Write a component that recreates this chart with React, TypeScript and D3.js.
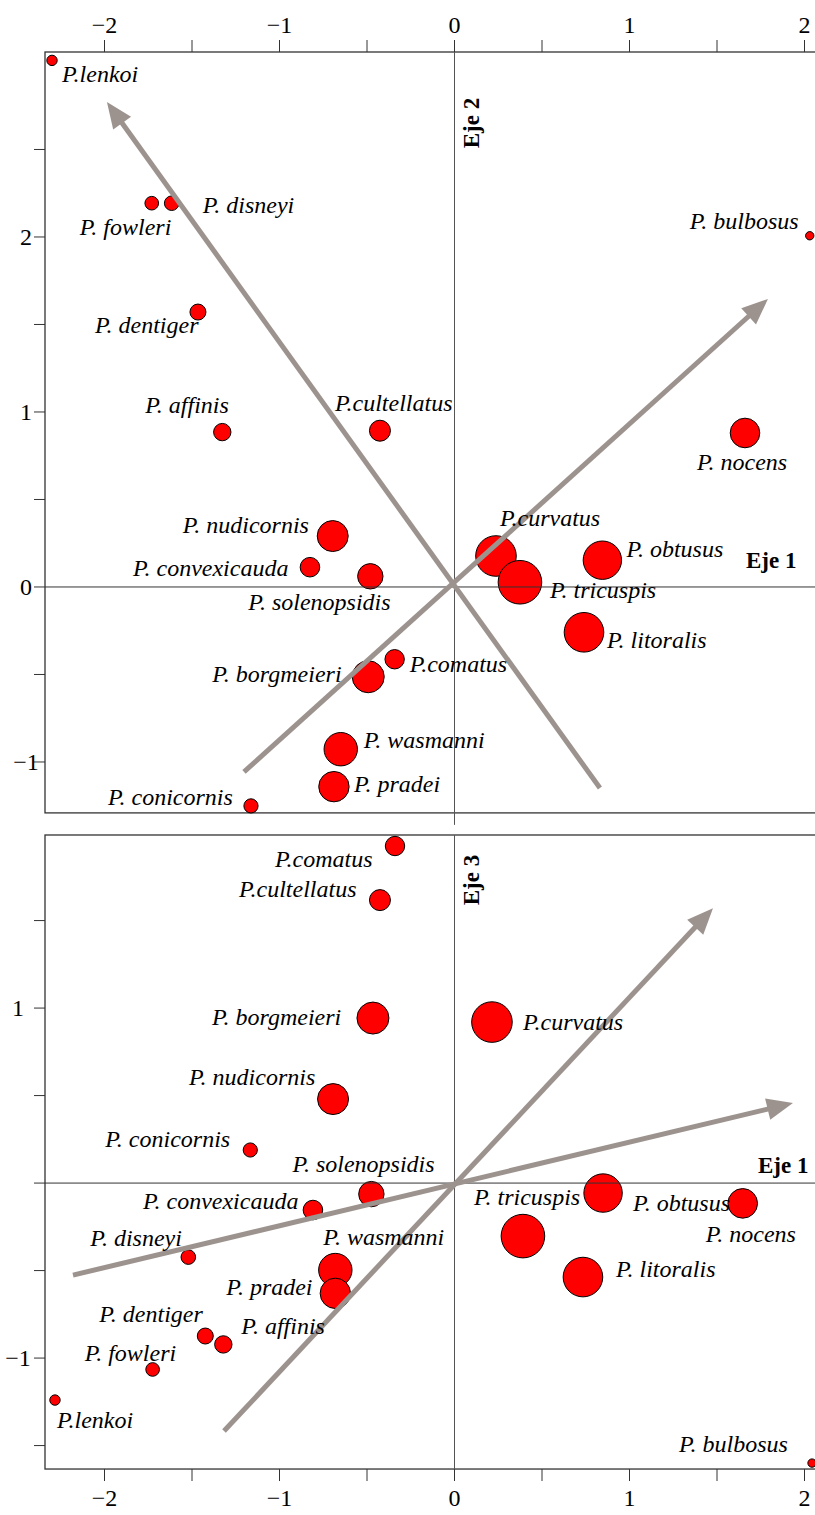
import React from "react";
import * as d3 from "d3";

// Species scores on the ordination axes
const species = [
  "P.lenkoi", "P. fowleri", "P. disneyi", "P. dentiger", "P. affinis",
  "P.cultellatus", "P. bulbosus", "P. nocens", "P. nudicornis", "P. convexicauda",
  "P. solenopsidis", "P.curvatus", "P. tricuspis", "P. obtusus", "P. litoralis",
  "P. borgmeieri", "P.comatus", "P. wasmanni", "P. pradei", "P. conicornis",
];

const eje1Top = [-2.3, -1.73, -1.616, -1.466, -1.327, -0.426, 2.03, 1.66, -0.696, -0.826,
  -0.481, 0.237, 0.374, 0.845, 0.74, -0.493, -0.342, -0.65, -0.689, -1.163];
const eje2 = [3.009, 2.193, 2.193, 1.571, 0.885, 0.893, 2.007, 0.88, 0.291, 0.113,
  0.061, 0.177, 0.027, 0.153, -0.259, -0.513, -0.413, -0.927, -1.141, -1.251];

const eje1Bottom = [-2.283, -1.725, -1.521, -1.424, -1.321, -0.426, 2.043, 1.647, -0.694, -0.809,
  -0.475, 0.214, 0.391, 0.849, 0.734, -0.466, -0.34, -0.681, -0.681, -1.167];
const eje3 = [-1.24, -1.065, -0.423, -0.874, -0.922, 1.617, -1.6, -0.116, 0.48, -0.154,
  -0.063, 0.92, -0.303, -0.057, -0.537, 0.943, 1.926, -0.497, -0.63, 0.189];

// Relative abundance (symbol area)
const abundance = [5.6, 9.6, 11, 13.2, 15.6, 22.8, 3.6, 45.3, 49.6, 19.8,
  33.3, 85.1, 98.2, 76.2, 81, 52.9, 19.4, 57.6, 47.7, 10.4];

// Environmental vectors [x0, y0, x1, y1]
const vectorsTop = [
  [-1.203, -1.057, 1.791, 1.646],
  [0.831, -1.149, -1.986, 2.771],
];
const vectorsBottom = [
  [-1.317, -1.417, 1.477, 1.571],
  [-2.18, -0.526, 1.934, 0.457],
];

const xTicks = [-2, -1.5, -1, -0.5, 0, 0.5, 1, 1.5, 2];
const xTickLabels = [-2, -1, 0, 1, 2];
const yTicksTop = [-1, -0.5, 0, 0.5, 1, 1.5, 2, 2.5];
const yTickLabelsTop = [-1, 0, 1, 2];
const yTicksBottom = [-1.5, -1, -0.5, 0, 0.5, 1, 1.5];
const yTickLabelsBottom = [-1, 1];

// Label placement: [dx, dy] from the symbol centre to the label's start/baseline
const labelOffsetTop: [number, number][] = [
  [10, 22], [-72, 32], [31, 10], [-103, 21], [-77, -19],
  [-45, -20], [-120, -7], [-48, 37], [-150, -3], [-177, 9],
  [-122, 34], [4, -30], [30, 16], [24, -3], [23, 16],
  [-156, 5], [15, 13], [23, -1], [20, 5], [-143, -1],
];
const labelOffsetBottom: [number, number][] = [
  [2, 28], [-68, -8], [-98, -11], [-106, -14], [18, -10],
  [-141, -3], [-133, -11], [-37, 39], [-144, -14], [-170, -1],
  [-79, -22], [31, 8], [-49, -31], [30, 18], [33, 0],
  [-161, 7], [-120, 21], [-12, -25], [-109, 2], [-145, -3],
];

const W = 815;
const H = 1515;
const UNIT = 175;
const LEFT = 45;
const X_LIM = [-2.34, 2.12];
const TOP_Y_LIM = [-1.291, 3.057];
const BOT_Y_LIM = [-1.634, 1.989];
const TOP_PANEL_Y = 52;
const BOT_PANEL_Y = 835;

const FONT = "'Liberation Serif', 'Times New Roman', Times, serif";
const ARROW = "#9c938e";
const AXIS = "#333";

const x = d3.scaleLinear().domain(X_LIM).range([LEFT, LEFT + UNIT * (X_LIM[1] - X_LIM[0])]);
const yTop = d3.scaleLinear().domain(TOP_Y_LIM)
  .range([TOP_PANEL_Y + UNIT * (TOP_Y_LIM[1] - TOP_Y_LIM[0]), TOP_PANEL_Y]);
const yBot = d3.scaleLinear().domain(BOT_Y_LIM)
  .range([BOT_PANEL_Y + UNIT * (BOT_Y_LIM[1] - BOT_Y_LIM[0]), BOT_PANEL_Y]);
const r = d3.scaleSqrt().domain([0, 100]).range([0, 22]);

const fmt = (v: number) => (v < 0 ? "\u2212" + Math.abs(v) : String(v));

function Arrow({ v, y }: { v: number[]; y: d3.ScaleLinear<number, number> }) {
  const x0 = x(v[0]), y0 = y(v[1]), x1 = x(v[2]), y1 = y(v[3]);
  const len = Math.hypot(x1 - x0, y1 - y0);
  const ux = (x1 - x0) / len, uy = (y1 - y0) / len;
  const head = 26, half = 11;
  const bx = x1 - ux * head, by = y1 - uy * head;
  const pts = [
    [x1, y1],
    [bx - uy * half, by + ux * half],
    [bx + uy * half, by - ux * half],
  ];
  return (
    <g>
      <line x1={x0} y1={y0} x2={bx + ux * 2} y2={by + uy * 2} stroke={ARROW} strokeWidth={5} />
      <polygon points={pts.map((p) => p.join(",")).join(" ")} fill={ARROW} />
    </g>
  );
}

function Panel(props: {
  xs: number[];
  ys: number[];
  y: d3.ScaleLinear<number, number>;
  vectors: number[][];
  offsets: [number, number][];
  yTicks: number[];
  yLabels: number[];
  yLabelX: number;
  axisLabel: string;
  axisLabelY: number;
  eje1: [number, number];
}) {
  const { xs, ys, y, vectors, offsets, yTicks, yLabels, yLabelX } = props;
  const [py1, py0] = y.range();
  const px0 = x.range()[0], px1 = x.range()[1];
  return (
    <g>
      <rect x={px0} y={py0} width={px1 - px0} height={py1 - py0} fill="none" stroke={AXIS} strokeWidth={1.3} />
      {yTicks.map((t) => (
        <line key={t} x1={px0 - 11} x2={px0} y1={y(t)} y2={y(t)} stroke={AXIS} strokeWidth={1} />
      ))}
      {yLabels.map((t) => (
        <text key={t} x={yLabelX} y={y(t) + 8} textAnchor="middle" fontSize={24} fontFamily={FONT}>
          {fmt(t)}
        </text>
      ))}
      {species.map((s, i) => (
        <circle key={s} cx={x(xs[i])} cy={y(ys[i])} r={r(abundance[i])} fill="#ff0000" stroke="#000" strokeWidth={1} />
      ))}
      <line x1={px0} x2={px1} y1={y(0)} y2={y(0)} stroke={AXIS} strokeWidth={1} />
      <line x1={x(0)} x2={x(0)} y1={py0} y2={py1} stroke="#555" strokeWidth={1} />
      {vectors.map((v, i) => (
        <Arrow key={i} v={v} y={y} />
      ))}
      {species.map((s, i) => (
        <text
          key={s}
          x={x(xs[i]) + offsets[i][0]}
          y={y(ys[i]) + offsets[i][1]}
          fontSize={24}
          fontStyle="italic"
          fontFamily={FONT}
        >
          {s}
        </text>
      ))}
      <text
        transform={`translate(${x(0) + 24},${props.axisLabelY}) rotate(-90)`}
        textAnchor="middle"
        fontSize={23}
        fontWeight="bold"
        fontFamily={FONT}
      >
        {props.axisLabel}
      </text>
      <text x={props.eje1[0]} y={y(0) + props.eje1[1]} fontSize={23} fontWeight="bold" fontFamily={FONT}>
        Eje 1
      </text>
    </g>
  );
}

export default function App() {
  const topY0 = yTop.range()[1];
  const botY1 = yBot.range()[0];
  return (
    <svg
      width={W}
      height={H}
      viewBox={`0 0 ${W} ${H}`}
      style={{ position: "absolute", left: 0, top: 0, display: "block", background: "#fff" }}
    >
      {/* top axis */}
      {xTicks.map((t) => (
        <line key={"tt" + t} x1={x(t)} x2={x(t)} y1={topY0 - 12} y2={topY0} stroke={AXIS} strokeWidth={1} />
      ))}
      {xTickLabels.map((t) => (
        <text key={"tl" + t} x={x(t)} y={33} textAnchor="middle" fontSize={24} fontFamily={FONT}>
          {fmt(t)}
        </text>
      ))}
      <Panel
        xs={eje1Top}
        ys={eje2}
        y={yTop}
        vectors={vectorsTop}
        offsets={labelOffsetTop}
        yTicks={yTicksTop}
        yLabels={yTickLabelsTop}
        yLabelX={26}
        axisLabel="Eje 2"
        axisLabelY={123}
        eje1={[746, -19]}
      />
      <Panel
        xs={eje1Bottom}
        ys={eje3}
        y={yBot}
        vectors={vectorsBottom}
        offsets={labelOffsetBottom}
        yTicks={yTicksBottom}
        yLabels={yTickLabelsBottom}
        yLabelX={18}
        axisLabel="Eje 3"
        axisLabelY={880}
        eje1={[758, -10]}
      />
      {/* bottom axis */}
      {xTicks.map((t) => (
        <line key={"bt" + t} x1={x(t)} x2={x(t)} y1={botY1} y2={botY1 + 12} stroke={AXIS} strokeWidth={1} />
      ))}
      {xTickLabels.map((t) => (
        <text key={"bl" + t} x={x(t)} y={1506} textAnchor="middle" fontSize={24} fontFamily={FONT}>
          {fmt(t)}
        </text>
      ))}
      {/* zero line continued across the gap between panels */}
      <line x1={x(0)} x2={x(0)} y1={yTop.range()[0]} y2={yTop.range()[0] + 12} stroke="#555" strokeWidth={1} />
    </svg>
  );
}
